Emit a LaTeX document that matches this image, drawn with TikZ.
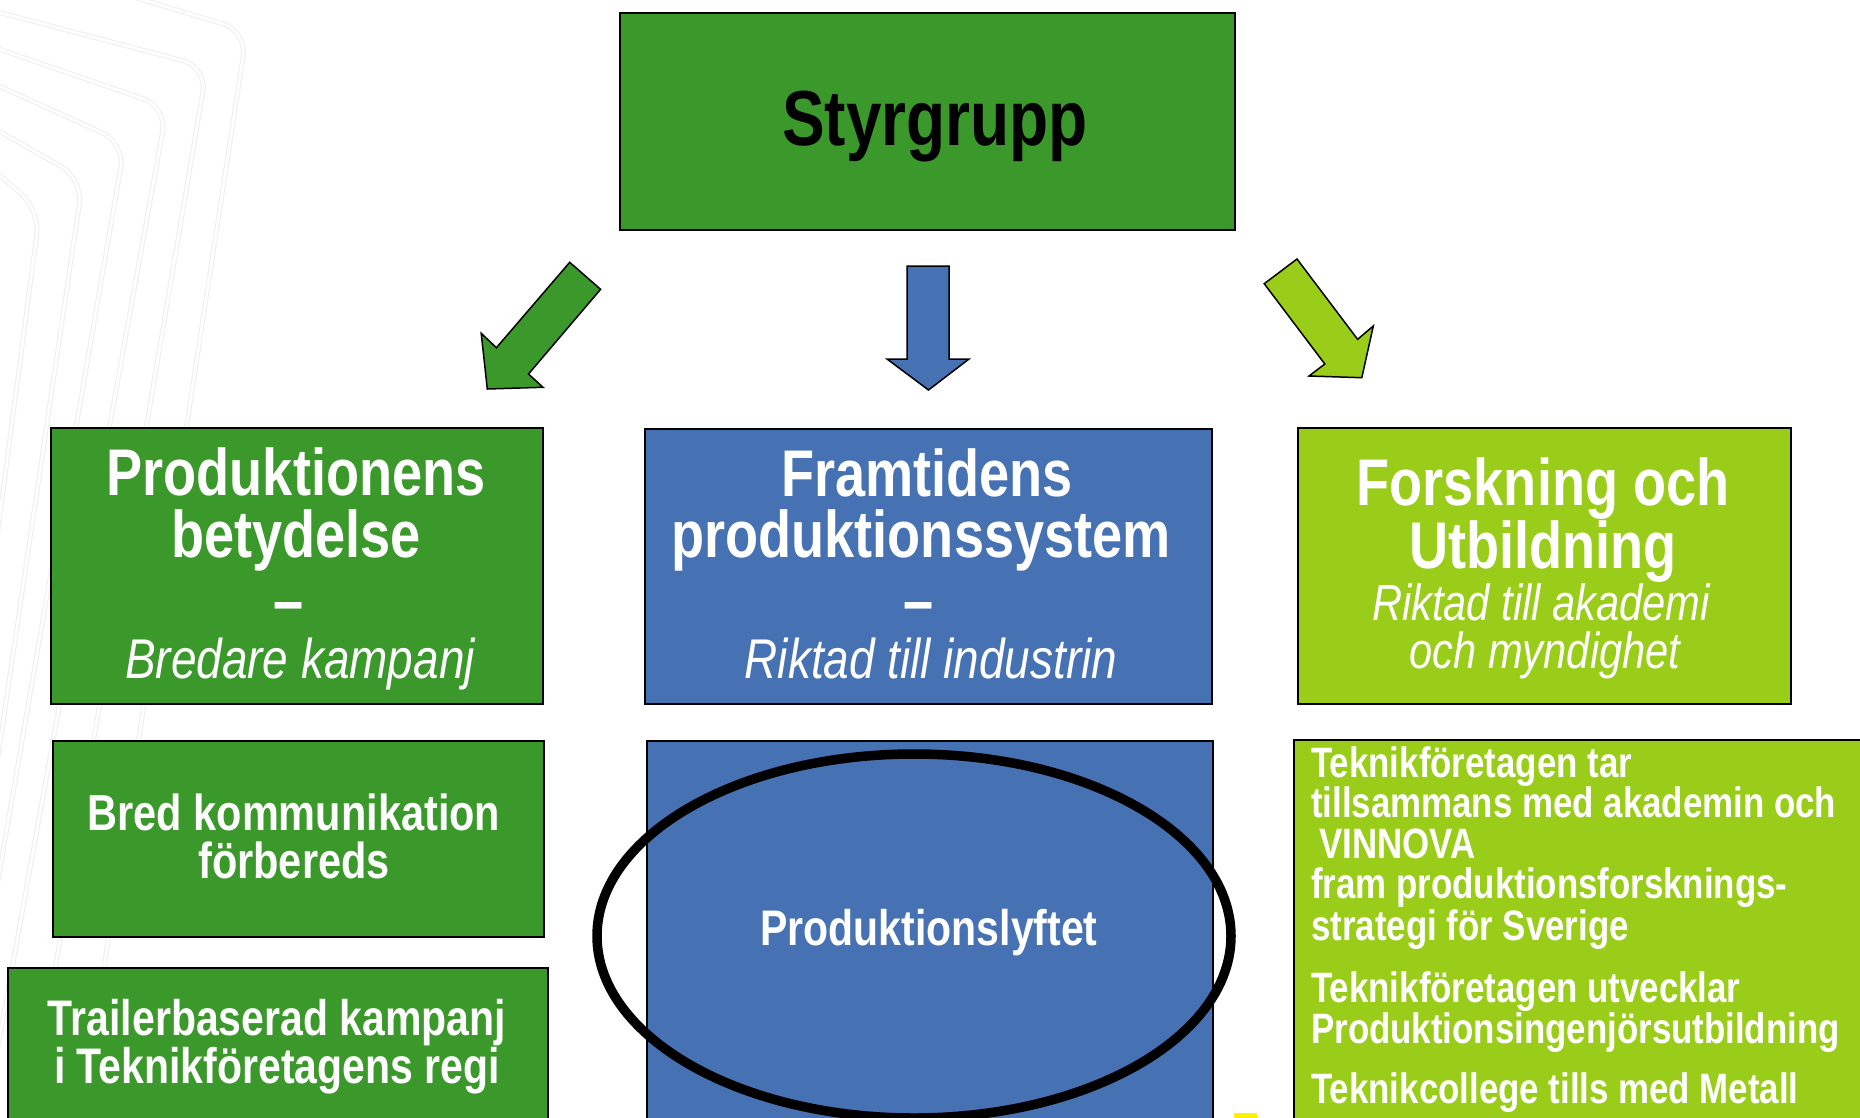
\documentclass[tikz,border=0pt]{standalone}
\usepackage{fontspec}
\setmainfont{Liberation Sans}[FakeStretch=0.82]
\definecolor{dg}{HTML}{3B982A}
\definecolor{bl}{HTML}{4672B4}
\definecolor{lg}{HTML}{99CD19}
\definecolor{ylw}{HTML}{FFF200}
\newcommand{\myfs}[1]{\fontsize{#1pt}{#1pt}\selectfont}
\tikzset{
  box/.style={draw=black, line width=2pt, rectangle, inner sep=0pt, anchor=north west},
  txt/.style={anchor=base, inner sep=0pt, text=white, font=\bfseries\myfs{#1}},
  itx/.style={anchor=base, inner sep=0pt, text=white, font=\itshape\myfs{#1}},
  ltx/.style={anchor=base west, inner sep=0pt, text=white, font=\bfseries\myfs{42.5}},
  blockarrow/.style={draw=black, line width=1.5pt, line join=miter},
  bgline/.style={draw=black!6, line width=1.2pt, double=white, double distance=2.5pt, rounded corners=25pt},
}
\begin{document}
\begin{tikzpicture}[x=1pt,y=-1pt]
\clip (0,0) rectangle (1860,1117);
\fill[white] (0,0) rectangle (1860,1117);
% faint background lines
\draw[bgline] (-10,-46) -- (247,31) -- (79,1130);
\draw[bgline] (-10,10) -- (207,67) -- (28,1130);
\draw[bgline] (-10,46) -- (167,107) -- (-17,1130);
\draw[bgline] (-10,82) -- (125,143) -- (-45,1130);
\draw[bgline] (-10,126) -- (83,179) -- (-57,1130);
\draw[bgline] (-10,167) -- (40,210) -- (-81,1130);

% boxes
\node[box, fill=dg, minimum width=615pt, minimum height=217pt] (styr) at (619,12) {};
\node[box, fill=dg, minimum width=492pt, minimum height=276pt] (hL) at (50,427) {};
\node[box, fill=bl, minimum width=567pt, minimum height=275pt] (hM) at (644,428) {};
\node[box, fill=lg, minimum width=493pt, minimum height=276pt] (hR) at (1297,427) {};
\node[box, fill=dg, minimum width=491pt, minimum height=196pt] (bL1) at (52,740) {};
\node[box, fill=dg, minimum width=540pt, minimum height=170pt] (bL2) at (7,967) {};
\node[box, fill=bl, minimum width=566pt, minimum height=390pt] (bM) at (646,740) {};
\node[box, fill=lg, minimum width=580pt, minimum height=390pt] (bR) at (1293,739) {};

% block arrows
\draw[blockarrow, fill=dg] (569.7,262.3) -- (600.6,289.3) -- (528.5,374) -- (543,387.3) -- (487.3,389) -- (481.2,333.3) -- (496.4,347.7) -- cycle;
\draw[blockarrow, fill=bl] (907,266) -- (949,266) -- (949,359) -- (969,359) -- (928.5,390) -- (887,359) -- (907,359) -- cycle;
\draw[blockarrow, fill=lg] (1297,259) -- (1357.6,339.3) -- (1373.3,326) -- (1361.8,377.7) -- (1309,376) -- (1324.8,364) -- (1264.2,283.7) -- cycle;

% ellipse
\draw[line width=9.5pt] (914,936) ellipse [x radius=317, y radius=182];
\fill[ylw] (1234,1113) rectangle (1257,1120);

% texts
\node[txt=78, text=black] (tStyr) at (935,145) {Styrgrupp};

\node[txt=66] (tL1) at (296,495) {Produktionens};
\node[txt=66] (tL2) at (296,557) {betydelse};
\node[txt=66] (tL3) at (289,623) {–};
\node[itx=56] (tL4) at (300,678) {Bredare kampanj};

\node[txt=66] (tM1) at (927,496) {Framtidens};
\node[txt=66] (tM2) at (921,557) {produktionssystem};
\node[txt=66] (tM3) at (919,623) {–};
\node[itx=56] (tM4) at (931,678) {Riktad till industrin};

\node[txt=66] (tR1) at (1543,505) {Forskning och};
\node[txt=66] (tR2) at (1543,568) {Utbildning};
\node[itx=50.8] (tR3) at (1541,620) {Riktad till akademi};
\node[itx=50.8] (tR4) at (1545,668) {och myndighet};

\node[txt=50.6, align=center, font=\bfseries\fontsize{50.6pt}{48pt}\selectfont] (tB) at (294,878) {Bred kommunikation\\förbereds};
\node[txt=50, align=center, font=\bfseries\fontsize{50pt}{46pt}\selectfont] (tC) at (277,1083) {Trailerbaserad kampanj\\i Teknikföretagens regi};
\node[txt=50] (tP) at (929,945) {Produktionslyftet};

\node[ltx] (r1) at (1311,777) {Teknikföretagen tar};
\node[ltx] (r2) at (1311,817) {tillsammans med akademin och};
\node[ltx] (r3) at (1311,858) {\hspace{8pt}VINNOVA};
\node[ltx] (r4) at (1311,898) {fram produktionsforsknings-};
\node[ltx] (r5) at (1311,940) {strategi för Sverige};
\node[ltx] (r6) at (1311,1002) {Teknikföretagen utvecklar};
\node[ltx] (r7) at (1311,1043) {Produktionsingenjörsutbildning};
\node[ltx] (r8) at (1311,1103) {Teknikcollege tills med Metall};
\end{tikzpicture}
\end{document}
